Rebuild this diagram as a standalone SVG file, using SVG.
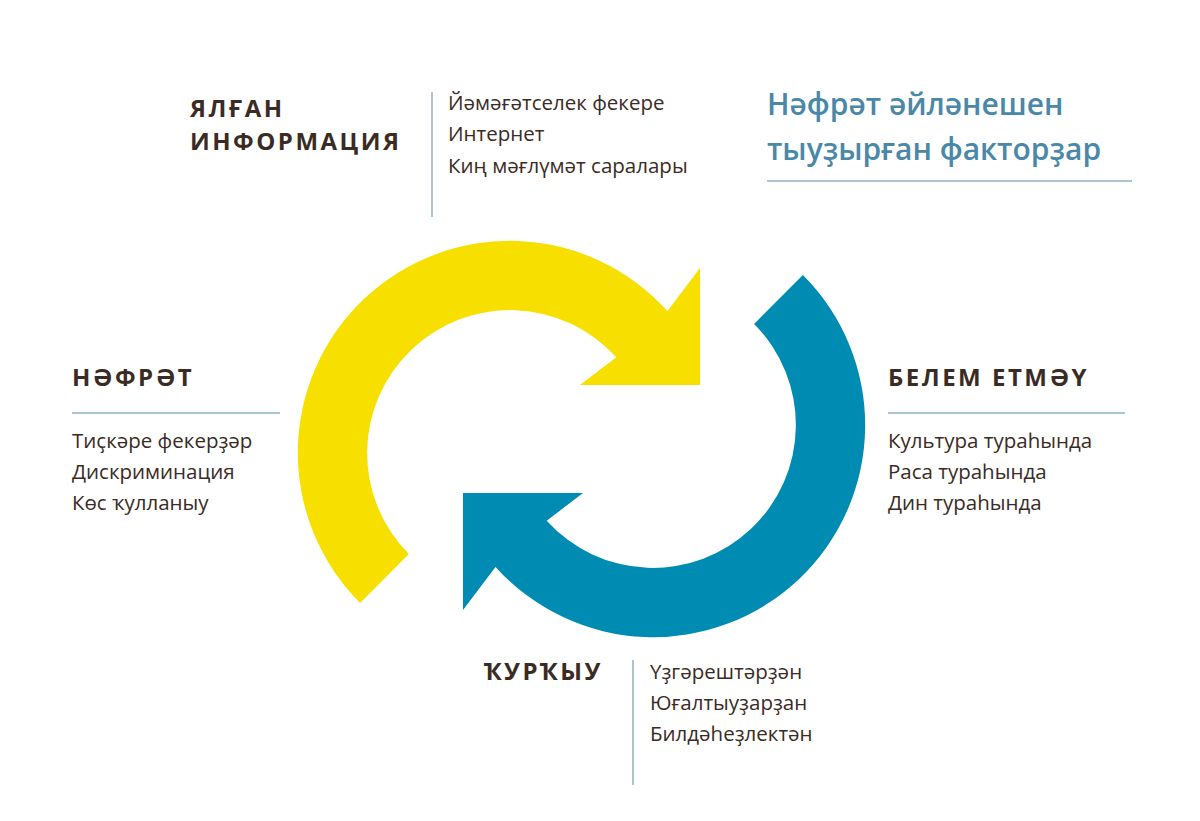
<svg xmlns="http://www.w3.org/2000/svg" width="1200" height="821" viewBox="0 0 1200 821">
<style>
.h{font-family:"Open Sans","Noto Sans",sans-serif;font-weight:700;font-size:24px;letter-spacing:2.5px;fill:#3a2b25}
.t{font-family:"Open Sans","Noto Sans",sans-serif;font-size:20.5px;fill:#3a2b25}
.ti{font-family:"Open Sans","Noto Sans",sans-serif;font-weight:600;font-size:30px;fill:#4a88a8}
.ln{stroke:#8fb3c3;stroke-width:1.5;fill:none}
</style>
<rect width="1200" height="821" fill="#fff"/>
<g id="connectors">
<path id="yellow" fill="#F7DF00" d="M360.1,602.9 A212,212 0 1 1 667.5,311.1 L700,268 L700,385 L580,385 L616.3,357.3 A143,143 0 1 0 408.9,554.1 Z"/>
<path id="blue" fill="#008BB2" transform="rotate(180 581.5 439)" d="M360.1,602.9 A212,212 0 1 1 667.5,311.1 L700,268 L700,385 L580,385 L616.3,357.3 A143,143 0 1 0 408.9,554.1 Z"/>
</g>
<g id="title">
<text class="ti" x="767" y="115">Нәфрәт әйләнешен</text>
<text class="ti" x="767" y="160">тыуҙырған факторҙар</text>
<line class="ln" x1="767" y1="181" x2="1132" y2="181"/>
</g>
<g id="node-misinfo">
<text class="h" x="190" y="117">ЯЛҒАН</text>
<text class="h" x="190" y="150">ИНФОРМАЦИЯ</text>
<line class="ln" x1="432" y1="92" x2="432" y2="217"/>
<text class="t" x="448" y="110">Йәмәғәтселек фекере</text>
<text class="t" x="448" y="141">Интернет</text>
<text class="t" x="448" y="173">Киң мәғлүмәт саралары</text>
</g>
<g id="node-hate">
<text class="h" x="72" y="386">НӘФРӘТ</text>
<line class="ln" x1="72" y1="413" x2="280" y2="413"/>
<text class="t" x="72" y="448">Тиҫкәре фекерҙәр</text>
<text class="t" x="72" y="479">Дискриминация</text>
<text class="t" x="72" y="510">Көс ҡулланыу</text>
</g>
<g id="node-ignorance">
<text class="h" x="888" y="386">БЕЛЕМ ЕТМӘҮ</text>
<line class="ln" x1="888" y1="413" x2="1125" y2="413"/>
<text class="t" x="888" y="448">Культура тураһында</text>
<text class="t" x="888" y="479">Раса тураһында</text>
<text class="t" x="888" y="510">Дин тураһында</text>
</g>
<g id="node-fear">
<text class="h" x="484" y="680">ҠУРҠЫУ</text>
<line class="ln" x1="633" y1="660" x2="633" y2="785"/>
<text class="t" x="650" y="679">Үҙгәрештәрҙән</text>
<text class="t" x="650" y="710">Юғалтыуҙарҙан</text>
<text class="t" x="650" y="741">Билдәһеҙлектән</text>
</g>
</svg>
